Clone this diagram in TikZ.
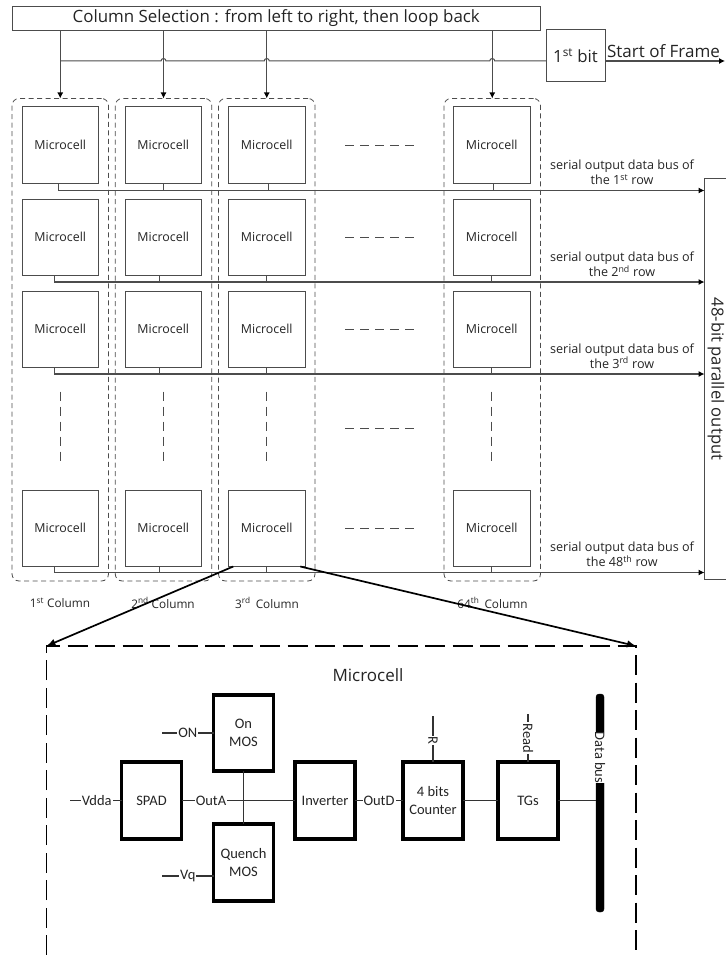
\documentclass[tikz,border=0pt]{standalone}
\usepackage{fontspec}
\setmainfont{Open Sans}
\newfontfamily\insetfont{Carlito}
\usepackage{xcolor}
\usetikzlibrary{positioning, arrows.meta}
\definecolor{linegray}{gray}{0.3}
\definecolor{textgray}{gray}{0.14}

\begin{document}
\begin{tikzpicture}[
    x=1pt,
    y=-1pt,
    every node/.style={text=textgray, inner sep=0pt, outer sep=0pt},
    cell/.style={
        rectangle,
        draw=linegray,
        line width=1pt,
        align=center,
        font=\fontsize{12.4}{14}\selectfont,
        minimum width=76.5pt,
        minimum height=76.5pt
    },
    column/.style={
        rectangle,
        draw=linegray,
        line width=0.8pt,
        rounded corners=7pt,
        dash pattern=on 5pt off 3.5pt,
        minimum width=96.5pt,
        minimum height=482.5pt
    },
    block/.style={
        rectangle,
        draw=black,
        line width=3.7pt,
        align=center,
        font=\insetfont\fontsize{14.5}{17.5}\selectfont,
        minimum width=60pt,
        minimum height=76.5pt
    },
    plain/.style={
        draw=linegray,
        line width=1pt
    },
    arrow/.style={
        draw=linegray,
        line width=1.1pt,
        -{Latex[length=6pt,width=6pt,color=black]}
    },
    zoomarrow/.style={
        draw=black,
        line width=1.7pt,
        -{Latex[length=9pt,width=7.5pt]}
    },
    gapdash/.style={
        draw=linegray,
        line width=1pt,
        dash pattern=on 9pt off 6pt
    },
    wire/.style={
        draw=black!80,
        line width=1.3pt
    },
    buslabel/.style={
        align=center,
        font=\fontsize{12.6}{15}\selectfont
    },
    collabel/.style={
        font=\fontsize{11.8}{14}\selectfont
    },
    sig/.style={
        fill=white,
        inner xsep=1pt,
        inner ysep=0.5pt,
        font=\insetfont\fontsize{14.5}{16}\selectfont
    }
]
\useasboundingbox (0,0) rectangle (725,955);

% Selection bar and frame bit
\node[draw=linegray, line width=1pt, minimum width=527.5pt, minimum height=24pt,
    font=\fontsize{16.9}{18}\selectfont] (select) at (276.25,18.5)
    {Column Selection : from left to right, then loop back};
\node[draw=linegray, line width=1pt, minimum width=59pt, minimum height=52.5pt,
    font=\fontsize{16.8}{18}\selectfont] (firstbit) at (575.5,55.75) {1\textsuperscript{st} bit};
\coordinate (frameout) at (725,61);

% Microcell rows
\node[cell] (a1) at (60.25,145.25) {Microcell};
\node[cell, right=26.5pt of a1] (a2) {Microcell};
\node[cell, right=27pt of a2] (a3) {Microcell};
\node[cell, right=148.5pt of a3] (a4) {Microcell};

\node[cell, below=15.5pt of a1] (b1) {Microcell};
\node[cell, below=15.5pt of a2] (b2) {Microcell};
\node[cell, below=15.5pt of a3] (b3) {Microcell};
\node[cell, below=15.5pt of a4] (b4) {Microcell};

\node[cell, below=15.5pt of b1] (c1) {Microcell};
\node[cell, below=15.5pt of b2] (c2) {Microcell};
\node[cell, below=15.5pt of b3] (c3) {Microcell};
\node[cell, below=15.5pt of b4] (c4) {Microcell};

\node[cell, below=122.5pt of c1] (d1) {Microcell};
\node[cell, below=122.5pt of c2] (d2) {Microcell};
\node[cell, below=122.5pt of c3] (d3) {Microcell};
\node[cell, below=122.5pt of c4] (d4) {Microcell};

% Column frames
\node[column] (col1) at (60.25,339.75) {};
\node[column] (col2) at (163.5,339.75) {};
\node[column] (col3) at (266.75,339.75) {};
\node[column] (col4) at (492.25,339.75) {};

\node[collabel] (name1) at (60,603) {1\textsuperscript{st} Column};
\node[collabel] (name2) at (163,603) {2\textsuperscript{nd} Column};
\node[collabel] (name3) at (267,603) {3\textsuperscript{rd}\, Column};
\node[collabel] (name4) at (492.5,603) {64\textsuperscript{th}\, Column};

% Output register
\node[draw=linegray, line width=1pt, minimum width=30pt, minimum height=401pt] (output) at (719.5,378.5) {};
\node[rotate=-90, font=\fontsize{16.6}{18}\selectfont] (outputname) at (716,379) {48-bit parallel output};

% Row bus starts
\coordinate (bus1) at (58.5,190.5);
\coordinate (bus2) at (54,282);
\coordinate (bus3) at (54,374);
\coordinate (bus4) at (54,572.5);

% Bus labels
\node[buslabel] (label1) at (622,172.5) {serial output data bus of\\the 1\textsuperscript{st} row};
\node[buslabel] (label2) at (622,264.5) {serial output data bus of\\the 2\textsuperscript{nd} row};
\node[buslabel] (label3) at (622,356) {serial output data bus of\\the 3\textsuperscript{rd} row};
\node[buslabel] (label4) at (622,554.5) {serial output data bus of\\the 48\textsuperscript{th} row};
\node[font=\fontsize{17}{18}\selectfont] (framename) at (663.5,51.5) {Start of Frame};

% Frame line with jumps over the column lines
\coordinate (tap) at (select.south -| col1.north);
\coordinate (join) at (tap |- frameout);
\draw[plain] (join)
    -- ([xshift=-2.5pt]join -| col2.north) arc[start angle=180, end angle=0, radius=2.5pt]
    -- ([xshift=-2.5pt]join -| col3.north) arc[start angle=180, end angle=0, radius=2.5pt]
    -- ([xshift=-2.5pt]join -| col4.north) arc[start angle=180, end angle=0, radius=2.5pt]
    -- (join -| firstbit.west);
\draw[arrow] (firstbit.east |- frameout) -- (frameout);

% Selection arrows
\draw[arrow] (select.south -| col1.north) -- (col1.north);
\draw[arrow] (select.south -| col2.north) -- (col2.north);
\draw[arrow] (select.south -| col3.north) -- (col3.north);
\draw[arrow] (select.south -| col4.north) -- (col4.north);

% Row buses
\draw[arrow] (bus1) -- (bus1 -| output.west);
\draw[arrow] (bus2) -- (bus2 -| output.west);
\draw[arrow] (bus3) -- (bus3 -| output.west);
\draw[arrow] (bus4) -- (bus4 -| output.west);

% Stubs
\draw[plain] (bus1) -- (bus1 |- a1.south);
\draw[plain] ([xshift=0.5pt]a2.south) -- ([xshift=0.5pt]a2.south |- bus1);
\draw[plain] ([xshift=1.75pt]a3.south) -- ([xshift=1.75pt]a3.south |- bus1);
\draw[plain] ([xshift=1.75pt]a4.south) -- ([xshift=1.75pt]a4.south |- bus1);

\draw[plain] (bus2) -- (bus2 |- b1.south);
\draw[plain] ([xshift=-3.5pt]b2.south) -- ([xshift=-3.5pt]b2.south |- bus2);
\draw[plain] (b3.south) -- (b3.south |- bus2);
\draw[plain] (b4.south) -- (b4.south |- bus2);

\draw[plain] (bus3) -- (bus3 |- c1.south);
\draw[plain] ([xshift=-3.5pt]c2.south) -- ([xshift=-3.5pt]c2.south |- bus3);
\draw[plain] (c3.south) -- (c3.south |- bus3);
\draw[plain] (c4.south) -- (c4.south |- bus3);

\draw[plain] (bus4) -- (bus4 |- d1.south);
\draw[plain] ([xshift=-3.5pt]d2.south) -- ([xshift=-3.5pt]d2.south |- bus4);
\draw[plain] (d3.south) -- (d3.south |- bus4);
\draw[plain] (d4.south) -- (d4.south |- bus4);

% Elided columns and rows
\coordinate (gapL) at (345,428);
\coordinate (gapR) at (418,428);
\draw[gapdash] ([xshift=40pt]a3.east) -- ([xshift=-35.5pt]a4.west);
\draw[gapdash] ([xshift=40pt]b3.east) -- ([xshift=-35.5pt]b4.west);
\draw[gapdash] ([xshift=40pt]c3.east) -- ([xshift=-35.5pt]c4.west);
\draw[gapdash] ([xshift=40pt]d3.east) -- ([xshift=-35.5pt]d4.west);
\draw[gapdash] (gapL) -- (gapR);
\draw[gapdash] ([yshift=-24pt]c1.south) -- ([yshift=26.5pt]d1.north);
\draw[gapdash] ([yshift=-24pt]c2.south) -- ([yshift=26.5pt]d2.north);
\draw[gapdash] ([yshift=-24pt]c3.south) -- ([yshift=26.5pt]d3.north);
\draw[gapdash] ([yshift=-24pt]c4.south) -- ([yshift=26.5pt]d4.north);

% Microcell detail
\node[font=\fontsize{17}{19}\selectfont] (detail) at (368,675) {Microcell};
\coordinate (cornerL) at (46.5,646);
\coordinate (cornerR) at (636,646);
\coordinate (bottomL) at (46.5,955);
\coordinate (bottomR) at (636,955);
\draw[draw=black, line width=1.8pt, dash pattern=on 20pt off 7.5pt] (bottomL) -- (cornerL) -- (cornerR) -- (bottomR);
\draw[zoomarrow] ([xshift=-33.5pt]d3.south) -- (cornerL);
\draw[zoomarrow] ([xshift=33.5pt]d3.south) -- (cornerR);

\node[block] (spad) at (151.5,800.5) {SPAD};
\node[block] (onmos) at (243.5,733) {On\\MOS};
\node[block] (quench) at (243.5,862.5) {Quench\\MOS};
\node[block] (inverter) at (325,800.5) {Inverter};
\node[block] (counter) at (433,800.5) {4 bits\\Counter};
\node[block] (tgs) at (528,800.5) {TGs};
\node[draw=black, fill=black, rounded corners=3pt, minimum width=8pt, minimum height=218pt] (databus) at (600,803) {};

\coordinate (vdda) at (70,800.5);
\coordinate (ontap) at (162,733);
\coordinate (vqtap) at (162,876);
\coordinate (rtap) at (433,716);
\coordinate (readtap) at (528,714);

\draw[wire] (vdda) -- (spad) node[sig, pos=0.52] (vddaname) {Vdda};
\draw[wire] (spad) -- (inverter) node[sig, pos=0.26] (outaname) {OutA};
\draw[wire] (onmos) -- (quench);
\draw[wire] (ontap) -- (ontap -| onmos.west) node[sig, pos=0.5] (onname) {ON};
\draw[wire] (vqtap) -- (vqtap -| quench.west) node[sig, pos=0.5] (vqname) {Vq};
\draw[wire] (inverter) -- (counter) node[sig, pos=0.5] (outdname) {OutD};
\draw[wire] (rtap) -- (counter) node[sig, rotate=-90, pos=0.53] (rname) {R};
\draw[wire] (readtap) -- (tgs) node[sig, rotate=-90, pos=0.5] (readname) {Read};
\draw[wire] (counter) -- (tgs);
\draw[wire] (tgs) -- (tgs -| databus.west);
\node[sig, rotate=-90, inner ysep=0pt, inner xsep=0pt] (busname) at (600,757.5) {Data bus};

\end{tikzpicture}
\end{document}
